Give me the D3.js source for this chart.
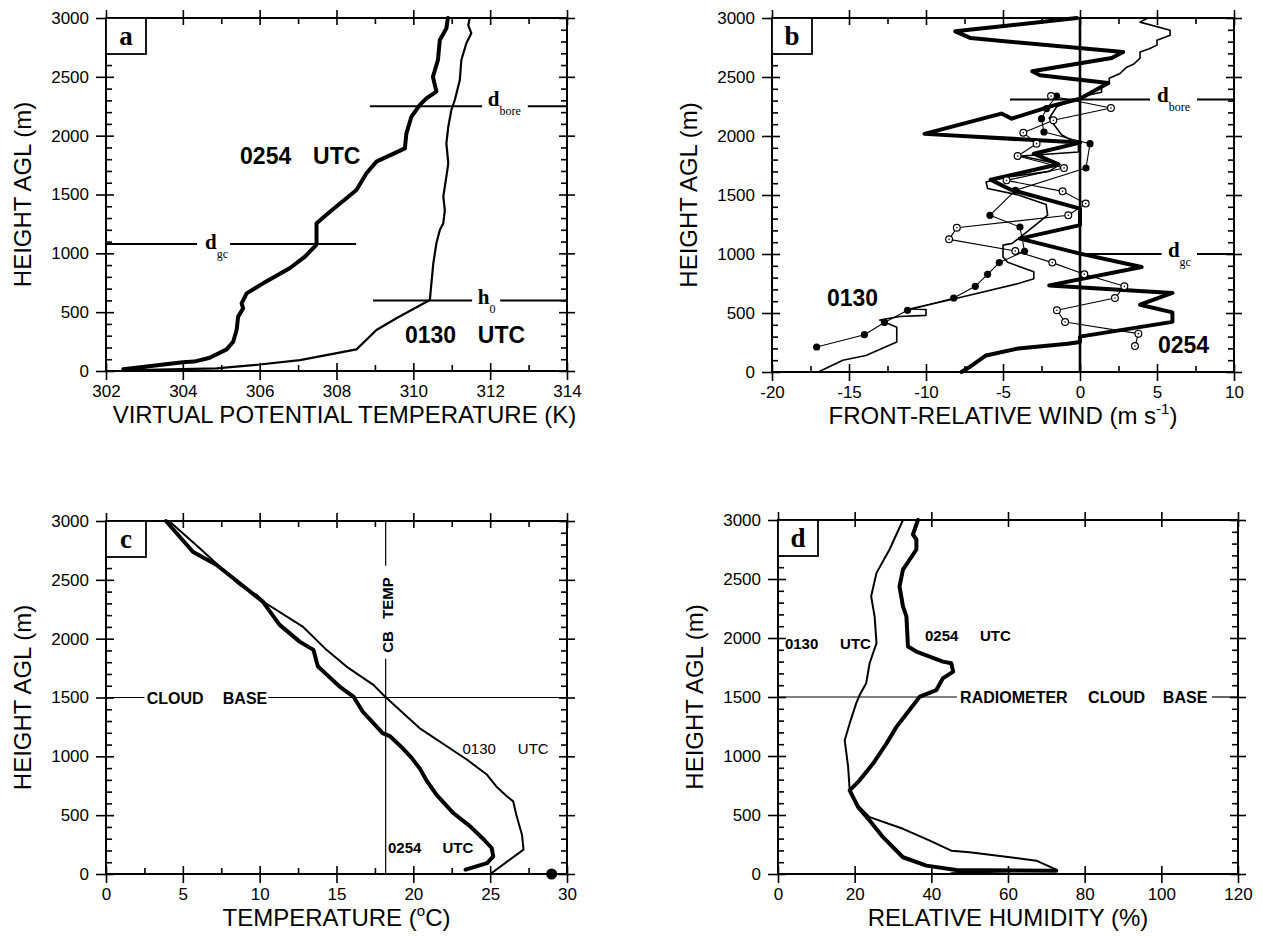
<!DOCTYPE html>
<html>
<head>
<meta charset="utf-8">
<script src="https://cdn.jsdelivr.net/npm/d3@7"></script>
<style>
  body { margin: 0; background: #fff; }
  svg text { font-family: "Liberation Sans", Arial, Helvetica, sans-serif; fill: #000; }
  svg text.serif { font-family: "Liberation Serif", "Times New Roman", serif; }
</style>
</head>
<body>
<svg id="fig" width="1263" height="937"></svg>
<script>
// ---------------- data: [value, height AGL (m)] ----------------
const heightTicks = [0, 500, 1000, 1500, 2000, 2500, 3000];
const heightMinor = d3.range(0, 3001, 100).filter(v => v % 500 !== 0);

// (a) virtual potential temperature (K)
const thetaTicks = [302, 304, 306, 308, 310, 312, 314];
const thetaMinor = [303, 305, 307, 309, 311, 313];
const theta0254 = [
  [302.45, 15], [304.0, 74], [304.3, 80], [304.7, 113], [305.14, 184], [305.31, 249],
  [305.4, 348], [305.44, 462], [305.57, 533], [305.53, 575], [305.66, 660], [306.09, 745],
  [306.78, 873], [307.18, 972], [307.48, 1075], [307.48, 1255], [307.83, 1354], [308.52, 1538],
  [308.78, 1680], [309.04, 1779], [309.78, 1892], [309.82, 2020], [309.95, 2161], [310.17, 2261],
  [310.34, 2317], [310.6, 2374], [310.51, 2501], [310.64, 2643], [310.69, 2813], [310.86, 2912],
  [310.9, 3000]
];
const theta0130 = [
  [302.45, 5], [304.88, 23], [306.0, 55], [307.05, 93], [308.52, 184], [309.04, 348],
  [309.56, 448], [310.43, 603], [310.47, 745], [310.52, 915], [310.6, 1085], [310.69, 1198],
  [310.78, 1255], [310.82, 1368], [310.78, 1482], [310.86, 1652], [310.91, 1765], [310.86, 1935],
  [310.91, 2076], [310.99, 2218], [311.08, 2303], [311.21, 2473], [311.25, 2643], [311.38, 2785],
  [311.51, 2870], [311.43, 2940], [311.47, 3000]
];

// (b) front-relative wind (m s-1)
const windTicks = [-20, -15, -10, -5, 0, 5, 10];
const windMinor = [-17.5, -12.5, -7.5, -2.5, 2.5, 7.5];
const wind0254 = [
  [-7.7, 0], [-7.2, 40], [-6.1, 140], [-4.0, 200], [-0.8, 240], [0, 255], [0, 300],
  [6.0, 425], [6.0, 505], [3.9, 570], [6.0, 670], [-2.0, 734], [4.0, 890], [0, 1003],
  [-3.9, 1130], [0, 1245], [0, 1385], [-4.5, 1545], [-5.8, 1630], [-1.4, 1760], [-3.0, 1850],
  [0, 1944], [-10.1, 2018], [-5.1, 2190], [-4.44, 2147], [-1.7, 2260], [0, 2316], [1.84, 2450],
  [-2.6, 2514], [-3.1, 2548], [2.06, 2661], [2.8, 2712], [-7.1, 2830], [-8.1, 2887], [-0.2, 3000]
];
const wind0130 = [
  [-17.0, 0], [-15.4, 100], [-13.9, 140], [-11.9, 255], [-11.9, 380], [-13.0, 440], [-11.7, 470],
  [-10.0, 480], [-10.0, 530], [-11.0, 535], [-8.0, 625], [-4.0, 750], [-3.0, 790], [-3.0, 850],
  [-4.7, 930], [-5.0, 975], [-5.0, 1075], [-4.4, 1090], [-2.9, 1245], [-2.1, 1330], [-2.2, 1420],
  [-4.0, 1500], [-6.0, 1555], [-6.1, 1610], [-4.8, 1650], [-2.0, 1700], [-1.3, 1760], [-3.8, 1830],
  [-0.1, 1865], [-0.1, 1930], [-1.2, 2010], [-2.0, 2150], [-1.5, 2250], [0.5, 2345], [1.4, 2370],
  [1.4, 2420], [1.9, 2440], [1.9, 2490], [2.6, 2530], [3.0, 2580], [3.5, 2610], [3.9, 2660],
  [3.9, 2712], [4.5, 2740], [5.0, 2770], [5.0, 2811], [5.85, 2853], [5.85, 2896], [3.9, 2965],
  [4.4, 3000]
];
const profiler0130 = [
  [-17.1, 212], [-14.0, 316], [-12.7, 420], [-11.2, 523], [-8.2, 627], [-6.8, 726], [-6.0, 828],
  [-5.24, 927], [-3.6, 1023], [-3.9, 1229], [-5.85, 1328], [-4.2, 1540], [0.39, 1729],
  [0.65, 1935], [-2.34, 2034], [-2.5, 2147], [-2.17, 2232], [-1.52, 2339]
];
const profiler0254 = [
  [3.57, 220], [3.79, 325], [-0.97, 424], [-1.5, 523], [2.27, 627], [2.88, 726], [0.28, 828],
  [-1.8, 927], [-4.2, 1025], [-8.5, 1124], [-8.0, 1223], [-0.76, 1328], [0.37, 1427],
  [-1.13, 1531], [-4.77, 1624], [-1.04, 1729], [-4.05, 1831], [-2.82, 1935], [-3.68, 2028],
  [-1.73, 2133], [2.01, 2237], [-1.88, 2339]
];

// (c) temperature (deg C)
const tempTicks = [0, 5, 10, 15, 20, 25, 30];
const tempMinor = [2.5, 7.5, 12.5, 17.5, 22.5, 27.5];
const temp0254 = [
  [23.4, 37], [24.8, 93], [25.2, 150], [25.1, 221], [24.6, 291], [23.7, 405], [22.6, 518],
  [21.5, 674], [20.9, 787], [20.4, 900], [19.9, 985], [19.3, 1070], [18.5, 1169], [18.0, 1197],
  [17.4, 1282], [16.7, 1381], [16.1, 1508], [15.2, 1593], [14.4, 1690], [13.8, 1763],
  [13.7, 1806], [13.5, 1905], [12.6, 1975], [11.3, 2117], [10.2, 2315], [9.8, 2357],
  [7.2, 2626], [5.65, 2739], [3.9, 3000]
];
const temp0130 = [
  [25.1, 8], [27.17, 207], [27.07, 334], [26.7, 504], [26.5, 617], [26.1, 659], [25.4, 744],
  [24.8, 843], [23.5, 971], [20.4, 1240], [18.15, 1508], [17.4, 1607], [15.65, 1763],
  [14.35, 1905], [12.8, 2103], [10.4, 2301], [9.8, 2372], [8.7, 2456], [6.1, 2768], [4.1, 3000]
];
const surfaceTemp = [[29.0, 0]];
const cbTemp = 18.2;
const cloudBase = 1500;

// (d) relative humidity (%)
const rhTicks = [0, 20, 40, 60, 80, 100, 120];
const rh0254 = [
  [72.6, 28], [46.5, 34], [38.7, 71], [32.6, 142], [27.4, 312], [23.9, 454], [20.9, 567],
  [18.7, 709], [21.3, 794], [24.8, 936], [28.3, 1106], [30.9, 1247], [34.3, 1389], [37.0, 1503],
  [41.3, 1559], [43.0, 1658], [45.7, 1715], [45.2, 1786], [43.0, 1800], [36.1, 1885],
  [33.9, 1928], [33.5, 2183], [32.6, 2268], [31.7, 2438], [32.6, 2580], [36.1, 2750],
  [36.1, 2835], [35.2, 2877], [36.5, 3000]
];
const rh0130 = [
  [45.2, 6], [72.6, 37], [67.4, 113], [50.0, 184], [45.2, 198], [39.6, 283], [32.6, 383],
  [23.9, 482], [20.4, 595], [18.7, 709], [18.3, 907], [17.4, 1134], [18.7, 1276], [20.4, 1446],
  [21.3, 1517], [23.0, 1616], [23.9, 1786], [25.7, 1956], [25.2, 2183], [24.3, 2353],
  [25.7, 2552], [29.1, 2750], [32.6, 3000]
];

// ---------------- drawing ----------------
const svg = d3.select("#fig");

function panel(cfg) {
  const { left, top, w, h } = cfg;
  const g = svg.append("g").attr("transform", `translate(${left},${top})`);
  const x = d3.scaleLinear().domain(cfg.xDomain).range([0, w]);
  const y = d3.scaleLinear().domain([0, 3000]).range([h, 0]);

  const put = (axis, tx, ty) => {
    const a = g.append("g").attr("transform", `translate(${tx},${ty})`).call(axis);
    a.select(".domain").remove();
    a.attr("font-size", 17);
    a.selectAll(".tick line").attr("stroke", "#000").attr("stroke-width", 1.6);
    return a;
  };
  const fmt = d => String(d);

  // bottom
  put(d3.axisBottom(x).tickValues(cfg.xTicks).tickSize(9).tickPadding(5).tickFormat(fmt), 0, h);
  put(d3.axisTop(x).tickValues(cfg.xTicks).tickSize(8).tickFormat(""), 0, h);
  if (cfg.xMinor.length) put(d3.axisTop(x).tickValues(cfg.xMinor).tickSize(6).tickFormat(""), 0, h);
  // top
  put(d3.axisTop(x).tickValues(cfg.xTicks).tickSize(8).tickFormat(""), 0, 0);
  put(d3.axisBottom(x).tickValues(cfg.xTicks).tickSize(7).tickFormat(""), 0, 0);
  if (cfg.xMinor.length) put(d3.axisBottom(x).tickValues(cfg.xMinor).tickSize(6).tickFormat(""), 0, 0);
  // left
  put(d3.axisLeft(y).tickValues(heightTicks).tickSize(10).tickPadding(7).tickFormat(fmt), 0, 0);
  put(d3.axisRight(y).tickValues(heightTicks).tickSize(8).tickFormat(""), 0, 0);
  put(d3.axisRight(y).tickValues(heightMinor).tickSize(6).tickFormat(""), 0, 0);
  // right
  put(d3.axisRight(y).tickValues(heightTicks).tickSize(8).tickFormat(""), w, 0);
  put(d3.axisLeft(y).tickValues(heightTicks).tickSize(8).tickFormat(""), w, 0);
  put(d3.axisLeft(y).tickValues(heightMinor).tickSize(6).tickFormat(""), w, 0);

  g.append("rect").attr("width", w).attr("height", h)
    .attr("fill", "none").attr("stroke", "#000").attr("stroke-width", 2);

  // axis titles
  svg.append("text")
    .attr("transform", `translate(${left - 75},${top + h / 2}) rotate(-90)`)
    .attr("text-anchor", "middle").attr("font-size", 24).text("HEIGHT AGL (m)");
  const xt = svg.append("text")
    .attr("x", left + w / 2 + (cfg.titleShift || 0)).attr("y", top + h + 52)
    .attr("text-anchor", "middle").attr("font-size", 24);
  cfg.xTitle.forEach(p => {
    const ts = xt.append("tspan").text(p.t);
    if (p.sup) ts.attr("font-size", 15).attr("dy", -10);
    if (p.after) ts.attr("dy", 10);
  });

  const plot = g.append("g");
  const line = d3.line().x(d => x(d[0])).y(d => y(d[1]));
  const path = (data, width) => plot.append("path").datum(data).attr("d", line)
    .attr("fill", "none").attr("stroke", "#000").attr("stroke-width", width)
    .attr("stroke-linejoin", "round").attr("stroke-linecap", "round");
  const hseg = (v0, v1, hh, width) => plot.append("line")
    .attr("x1", x(v0)).attr("x2", x(v1)).attr("y1", y(hh)).attr("y2", y(hh))
    .attr("stroke", "#000").attr("stroke-width", width);
  const vseg = (v, h0, h1, width) => plot.append("line")
    .attr("x1", x(v)).attr("x2", x(v)).attr("y1", y(h0)).attr("y2", y(h1))
    .attr("stroke", "#000").attr("stroke-width", width);
  const words = (list, hh, size, weight, dyPx) => {
    const t = plot.append("text").attr("y", y(hh) + (dyPx || 0))
      .attr("font-size", size).attr("font-weight", weight);
    list.forEach(wd => t.append("tspan").attr("x", x(wd[1])).text(wd[0]));
    return t;
  };
  const sym = (main, sub, v, hh, dyMain) => {
    const t = plot.append("text").attr("class", "serif")
      .attr("x", x(v)).attr("y", y(hh) + dyMain).attr("font-weight", "bold").attr("font-size", 21);
    t.append("tspan").text(main);
    t.append("tspan").attr("font-size", 12).attr("font-weight", "normal").attr("dy", 9).text(sub);
  };

  cfg.draw({ x, y, plot, path, hseg, vseg, words, sym });

  // panel letter box
  g.append("rect").attr("x", 0).attr("y", 0).attr("width", 40).attr("height", 36)
    .attr("fill", "#fff").attr("stroke", "#000").attr("stroke-width", 1.8);
  g.append("text").attr("class", "serif").attr("x", 20).attr("y", 27)
    .attr("text-anchor", "middle").attr("font-size", 27).attr("font-weight", "bold")
    .text(cfg.letter);
}

// (a)
panel({
  letter: "a", left: 106, top: 18, w: 461, h: 353, titleShift: 8,
  xDomain: [302, 314], xTicks: thetaTicks, xMinor: thetaMinor,
  xTitle: [{ t: "VIRTUAL POTENTIAL TEMPERATURE (K)" }],
  draw: ({ path, hseg, words, sym }) => {
    hseg(302, 304.37, 1080, 2); hseg(305.23, 308.51, 1080, 2);
    hseg(308.87, 311.79, 2250, 2); hseg(312.98, 314, 2250, 2);
    hseg(308.95, 311.53, 600, 2); hseg(312.26, 314, 600, 2);
    sym("d", "gc", 304.58, 1080, 5);
    sym("d", "bore", 311.94, 2250, 0);
    sym("h", "0", 311.68, 600, 4);
    path(theta0130, 2.2);
    path(theta0254, 4);
    words([["0254", 305.49], ["UTC", 307.39]], 1759, 23, "bold");
    words([["0130", 309.78], ["UTC", 311.68]], 238, 23, "bold");
  }
});

// (b)
panel({
  letter: "b", left: 772, top: 18, w: 462, h: 354,
  xDomain: [-20, 10], xTicks: windTicks, xMinor: windMinor,
  xTitle: [{ t: "FRONT-RELATIVE WIND (m s" }, { t: "-1", sup: true }, { t: ")", after: true }],
  draw: ({ x, y, plot, path, hseg, vseg, words, sym }) => {
    vseg(0, 0, 3000, 2.6);
    hseg(-4.55, 4.55, 2310, 2); hseg(7.6, 10, 2310, 2);
    hseg(0, 5.3, 1000, 2); hseg(7.6, 10, 1000, 2);
    sym("d", "bore", 5.0, 2310, 3);
    sym("d", "gc", 5.71, 1000, 3);
    path(wind0130, 1.6);
    path(wind0254, 4);
    path(profiler0130, 1.1);
    path(profiler0254, 1.1);
    plot.selectAll("circle.f").data(profiler0130).join("circle").attr("class", "f")
      .attr("cx", d => x(d[0])).attr("cy", d => y(d[1])).attr("r", 3.6).attr("fill", "#000");
    plot.selectAll("circle.o").data(profiler0254).join("circle").attr("class", "o")
      .attr("cx", d => x(d[0])).attr("cy", d => y(d[1])).attr("r", 3.4)
      .attr("fill", "#fff").attr("stroke", "#000").attr("stroke-width", 1.2);
    plot.selectAll("circle.c").data(profiler0254).join("circle").attr("class", "c")
      .attr("cx", d => x(d[0])).attr("cy", d => y(d[1])).attr("r", 0.8).attr("fill", "#000");
    words([["0130", -16.43]], 559, 23, "bold");
    words([["0254", 5.06]], 161, 23, "bold");
  }
});

// (c)
panel({
  letter: "c", left: 106, top: 521, w: 461, h: 353,
  xDomain: [0, 30], xTicks: tempTicks, xMinor: tempMinor,
  xTitle: [{ t: "TEMPERATURE (" }, { t: "o", sup: true }, { t: "C)", after: true }],
  draw: ({ x, y, plot, path, hseg, vseg, words }) => {
    vseg(cbTemp, 0, 1830, 1.2); vseg(cbTemp, 2620, 3000, 1.2);
    hseg(0, 2.5, cloudBase, 1.2); hseg(10.55, 30, cloudBase, 1.2);
    plot.append("text")
      .attr("transform", `translate(${x(cbTemp) + 7},${y(1880)}) rotate(-90)`)
      .attr("font-size", 15).attr("font-weight", "bold").attr("word-spacing", 8)
      .text("CB TEMP");
    words([["CLOUD", 2.65], ["BASE", 7.6]], cloudBase, 16, "bold", 6);
    path(temp0130, 2);
    path(temp0254, 4);
    plot.selectAll("circle").data(surfaceTemp).join("circle")
      .attr("cx", d => x(d[0])).attr("cy", d => y(d[1])).attr("r", 5.5).attr("fill", "#000");
    words([["0130", 23.2], ["UTC", 26.8]], 1017, 15, "normal");
    words([["0254", 18.35], ["UTC", 21.9]], 178, 15, "bold");
  }
});

// (d)
panel({
  letter: "d", left: 778, top: 520, w: 460, h: 354,
  xDomain: [0, 120], xTicks: rhTicks, xMinor: [],
  xTitle: [{ t: "RELATIVE HUMIDITY (%)" }],
  draw: ({ path, hseg, words }) => {
    hseg(0, 46.7, cloudBase, 1.2); hseg(113.2, 120, cloudBase, 1.2);
    words([["RADIOMETER", 47.5], ["CLOUD", 80.9], ["BASE", 100.4]], cloudBase, 16, "bold", 6);
    path(rh0130, 2);
    path(rh0254, 4);
    words([["0254", 38.35], ["UTC", 52.7]], 1975, 15, "bold");
    words([["0130", 1.8], ["UTC", 16.2]], 1907, 15, "bold");
  }
});
</script>
</body>
</html>
